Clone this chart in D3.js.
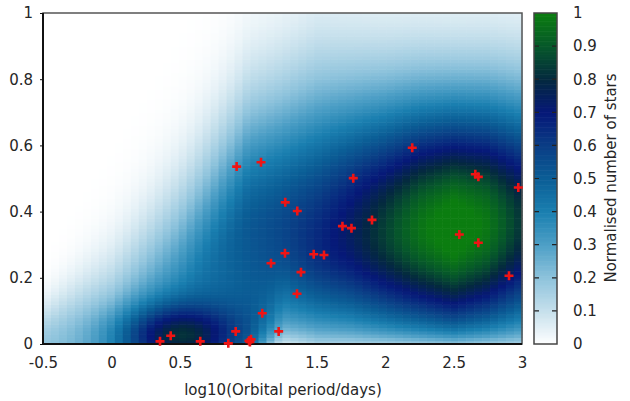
<!DOCTYPE html>
<html>
<head>
<meta charset="utf-8">
<script src="https://cdn.jsdelivr.net/npm/d3@7"></script>
<style>
body { margin: 0; background: #fff; }
text { font-family: "DejaVu Sans", sans-serif; fill: #262626; }
</style>
</head>
<body>
<svg id="chart" width="630" height="401"></svg>
<script>
// eccentricity ridge at a few period knots
var knotX     = [-0.5, 0, 0.5, 1, 1.25, 1.5, 1.75, 2, 2.25, 2.5, 2.75, 3];
var ridgeAmp  = [0.18, 0.25, 0.38, 0.52, 0.57, 0.65, 0.74, 0.85, 0.97, 1.05, 0.98, 0.82];
var ridgeMean = [0.0, 0.0, 0.12, 0.33, 0.33, 0.31, 0.33, 0.34, 0.35, 0.35, 0.36, 0.37];
var ridgeLow  = [0.1, 0.15, 0.2, 0.5, 0.25, 0.23, 0.24, 0.25, 0.255, 0.26, 0.26, 0.26];
var ridgeHigh = [0.08, 0.17, 0.23, 0.27, 0.29, 0.32, 0.30, 0.285, 0.275, 0.27, 0.27, 0.27];
var edgeDamp  = [0, 0, 0, 0.1, 0.8, 0.45, 0.5, 0.55, 0.55, 0.55, 0.55, 0.5];
var dampScale = 0.04;

// the circular short period clump
var blobCentre = [0.5, 0.02];
var blobWidth  = [0.32, 0.3, 0.07];   // left, right, ecc
var blobAmp    = 0.48;

// observed systems
var starLogP = [0.915, 1.093, 2.198, 1.767, 1.270, 1.358, 1.688, 1.754, 1.904, 1.268,
                1.478, 1.553, 1.166, 1.385, 1.356, 1.102, 0.908, 1.222, 0.433, 0.355,
                0.649, 0.854, 1.005, 1.020, 1.012, 2.659, 2.681, 2.973, 2.542, 2.681, 2.905];
var starEcc  = [0.536, 0.549, 0.593, 0.501, 0.428, 0.402, 0.356, 0.350, 0.375, 0.274,
                0.271, 0.269, 0.244, 0.217, 0.152, 0.093, 0.038, 0.038, 0.025, 0.008,
                0.008, 0.002, 0.010, 0.014, 0.006, 0.513, 0.505, 0.473, 0.331, 0.306, 0.206];

var xTicks  = [-0.5, 0, 0.5, 1, 1.5, 2, 2.5, 3];
var yTicks  = [0, 0.2, 0.4, 0.6, 0.8, 1];
var cbTicks = [0, 0.1, 0.2, 0.3, 0.4, 0.5, 0.6, 0.7, 0.8, 0.9, 1];
var paletteColors = ["#ffffff", "#c6e0ec", "#8ec3dc", "#4d9fc6", "#1a7fb0", "#0b5e96",
                     "#0a3d85", "#061878", "#04293f", "#06582a", "#0b7d10"];

var nx = 60, ny = 100;
var plotL = 43, plotR = 522, plotT = 13, plotB = 344;

var svg = d3.select("#chart");

var x = d3.scaleLinear().domain([-0.5, 3]).range([plotL, plotR]);
var y = d3.scaleLinear().domain([0, 1]).range([plotB, plotT]);
var color = d3.scaleLinear().domain(cbTicks).range(paletteColors).clamp(true);

var amp  = d3.scaleLinear().domain(knotX).range(ridgeAmp).clamp(true);
var mean = d3.scaleLinear().domain(knotX).range(ridgeMean).clamp(true);
var low  = d3.scaleLinear().domain(knotX).range(ridgeLow).clamp(true);
var high = d3.scaleLinear().domain(knotX).range(ridgeHigh).clamp(true);
var damp = d3.scaleLinear().domain(knotX).range(edgeDamp).clamp(true);

var density = function(lp, e) {
    var m = mean(lp);
    var s = e < m ? low(lp) : high(lp);
    var ridge = amp(lp) * Math.exp(-(e - m) * (e - m) / (2 * s * s));
    ridge *= 1 - damp(lp) * Math.exp(-e / dampScale);
    var bs = lp < blobCentre[0] ? blobWidth[0] : blobWidth[1];
    var dx = lp - blobCentre[0], de = e - blobCentre[1];
    var b = blobAmp * Math.exp(-dx * dx / (2 * bs * bs) - de * de / (2 * blobWidth[2] * blobWidth[2]));
    return Math.min(1, ridge + b);
}

var stepX = 3.5 / nx, stepY = 1 / ny;
var cells = d3.cross(d3.range(nx), d3.range(ny)).map(function(c) {
    var x0 = -0.5 + c[0] * stepX, y0 = c[1] * stepY;
    return {x0: x0, y0: y0, v: density(x0 + stepX / 2, y0 + stepY / 2)};
});

svg.append("g")
    .selectAll("rect")
    .data(cells)
    .enter()
    .append("rect")
    .attr("x", d => x(d.x0))
    .attr("y", d => y(d.y0 + stepY))
    .attr("width", d => x(d.x0 + stepX) - x(d.x0) + 0.6)
    .attr("height", d => y(d.y0) - y(d.y0 + stepY) + 0.6)
    .attr("fill", d => color(d.v));

// border
svg.append("rect")
    .attr("x", plotL).attr("y", plotT)
    .attr("width", plotR - plotL).attr("height", plotB - plotT)
    .attr("fill", "none").attr("stroke", "#555").attr("stroke-width", 1.5);
svg.append("path")
    .attr("d", "M" + plotL + "," + plotT + "V" + plotB + "H" + plotR)
    .attr("fill", "none").attr("stroke", "#111").attr("stroke-width", 2);

// stars
svg.append("g")
    .selectAll("path")
    .data(d3.zip(starLogP, starEcc))
    .enter()
    .append("path")
    .attr("transform", d => "translate(" + x(d[0]) + "," + y(d[1]) + ")")
    .attr("d", "M-4.5,0H4.5M0,-4.5V4.5")
    .attr("stroke", "#f01414")
    .attr("stroke-width", 2.6)
    .attr("fill", "none");

// axes
var xAxis = svg.append("g")
    .attr("transform", "translate(0," + plotB + ")")
    .call(d3.axisBottom(x).tickValues(xTicks).tickSize(0).tickPadding(13).tickFormat(d => String(d)));
var yAxis = svg.append("g")
    .attr("transform", "translate(" + plotL + ",0)")
    .call(d3.axisLeft(y).tickValues(yTicks).tickSize(3).tickPadding(7).tickFormat(d => String(d)));
[xAxis, yAxis].forEach(function(a) {
    a.select(".domain").remove();
    a.selectAll("text").style("font-size", "15px").attr("fill", null);
    a.selectAll("line").attr("stroke", "#111");
});

svg.append("text")
    .attr("x", 283).attr("y", 395)
    .attr("text-anchor", "middle")
    .style("font-size", "15px")
    .text("log10(Orbital period/days)");

// colour box
var cbLeft = 534, cbRight = 557;
var cbSteps = d3.range(0, 1, 0.005);
svg.append("g")
    .selectAll("rect")
    .data(cbSteps)
    .enter()
    .append("rect")
    .attr("x", cbLeft)
    .attr("y", d => y(d + 0.005))
    .attr("width", cbRight - cbLeft)
    .attr("height", d => y(d) - y(d + 0.005) + 0.6)
    .attr("fill", d => color(d + 0.0025));

svg.append("g")
    .selectAll("path")
    .data(cbTicks.slice(1, -1))
    .enter()
    .append("path")
    .attr("d", d => "M" + cbLeft + "," + y(d) + "h5M" + cbRight + "," + y(d) + "h-5")
    .attr("stroke", "#222")
    .attr("stroke-width", 1.2);

svg.append("rect")
    .attr("x", cbLeft).attr("y", plotT)
    .attr("width", cbRight - cbLeft).attr("height", plotB - plotT)
    .attr("fill", "none").attr("stroke", "#444").attr("stroke-width", 1.5);

var cAxis = svg.append("g")
    .attr("transform", "translate(" + cbRight + ",0)")
    .call(d3.axisRight(y).tickValues(cbTicks).tickSize(0).tickPadding(16).tickFormat(d => String(d)));
cAxis.select(".domain").remove();
cAxis.selectAll("text").style("font-size", "15px").attr("fill", null);

svg.append("text")
    .attr("transform", "translate(616,178) rotate(-90)")
    .attr("text-anchor", "middle")
    .style("font-size", "15px")
    .text("Normalised number of stars");
</script>
</body>
</html>
